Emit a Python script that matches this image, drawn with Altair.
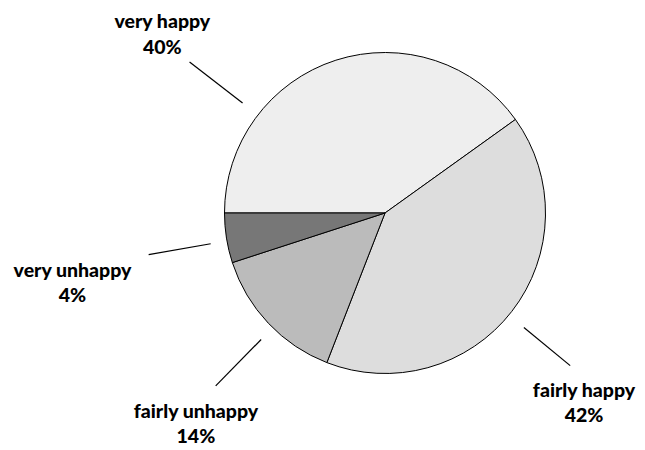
import altair as alt
import pandas as pd

# data
categories = ["very happy", "fairly happy", "fairly unhappy", "very unhappy"]
shares = [40.1, 40.8, 14.1, 5.0]          # slice sizes as drawn
label_pct = ["40%", "42%", "14%", "4%"]   # printed percentages
colors = ["#eeeeee", "#dddddd", "#bbbbbb", "#777777"]

# annotation layout (angles in degrees, clockwise from 12 o'clock)
leader_angle = [307.7, 129.5, 224.4, 260.0]
leader_r1 = [180, 180, 177, 177]
leader_r2 = [247, 240, 242, 240]
label_angle = [309.7, 132.7, 222.7, 258.5]
label_r = [289.4, 270.8, 278.8, 318.9]

CX, CY, R = 377, 205, 160.5
PI = 3.141592653589793

slices = pd.DataFrame({"category": categories, "share": shares,
                       "order": list(range(len(categories)))})
lines = pd.DataFrame({"category": categories, "a": leader_angle,
                      "r1": leader_r1, "r2": leader_r2})
labels = pd.DataFrame({"category": categories,
                       "text": [f"{c}\n{p}" for c, p in zip(categories, label_pct)],
                       "a": label_angle, "r": label_r})

pie = alt.Chart(slices).mark_arc(radius=R, stroke="black", strokeWidth=1).encode(
    theta=alt.Theta("share:Q", stack=True,
                    scale=alt.Scale(range=[1.5 * PI, 3.5 * PI])),
    order=alt.Order("order:Q"),
    color=alt.Color("category:N", legend=None,
                    scale=alt.Scale(domain=categories, range=colors)),
    x=alt.value(CX), y=alt.value(CY),
)

rules = alt.Chart(lines).transform_calculate(
    x1=f"{CX} + datum.r1 * sin(datum.a * PI / 180)",
    y1=f"{CY} - datum.r1 * cos(datum.a * PI / 180)",
    x2=f"{CX} + datum.r2 * sin(datum.a * PI / 180)",
    y2=f"{CY} - datum.r2 * cos(datum.a * PI / 180)",
).mark_rule(color="black", strokeWidth=1.2).encode(
    x=alt.X("x1:Q", scale=None), y=alt.Y("y1:Q", scale=None),
    x2="x2:Q", y2="y2:Q",
)

texts = alt.Chart(labels).transform_calculate(
    tx=f"{CX} + datum.r * sin(datum.a * PI / 180)",
    ty=f"{CY} - datum.r * cos(datum.a * PI / 180)",
).mark_text(
    align="center", baseline="alphabetic", lineBreak="\n", lineHeight=25.5,
    font="Lato", fontWeight=900, fontSize=19.5, color="black",
).encode(
    x=alt.X("tx:Q", scale=None), y=alt.Y("ty:Q", scale=None),
    text="text:N",
)

chart = alt.layer(pie, rules, texts).properties(
    width=629, height=438, padding=0, autosize="none",
).configure_view(stroke=None)

chart.save("out.html", embed_options={"renderer": "svg", "actions": False})
